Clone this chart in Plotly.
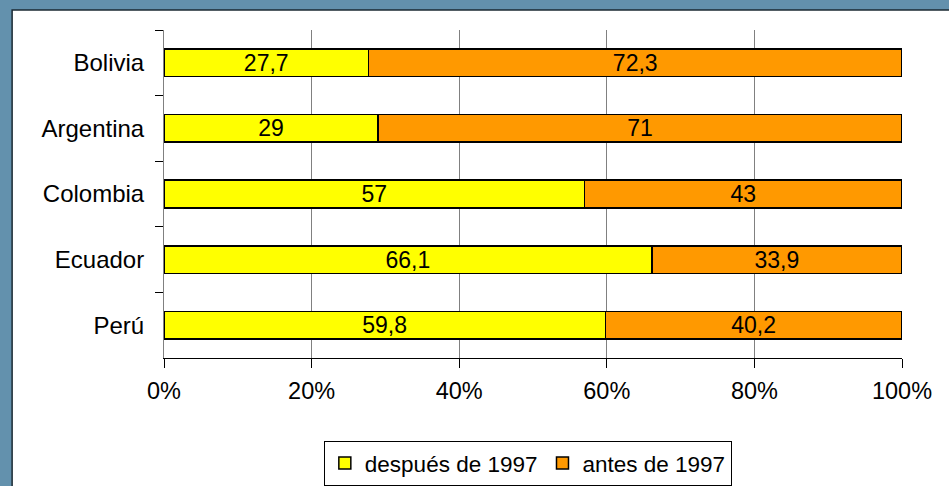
import plotly.graph_objects as go

# data
paises = ['Bolivia', 'Argentina', 'Colombia', 'Ecuador', 'Perú']
despues_1997 = [27.7, 29, 57, 66.1, 59.8]
antes_1997 = [72.3, 71, 43, 33.9, 40.2]
ticks_x = [0, 20, 40, 60, 80, 100]


def etiqueta(v):
    # coma decimal como en el original
    return ('%g' % v).replace('.', ',')


fuente = 'Liberation Sans, Arial, sans-serif'

fig = go.Figure()
fig.add_trace(go.Bar(
    y=paises, x=despues_1997, orientation='h', name='después de 1997',
    marker=dict(color='#FFFF00', line=dict(color='#000000', width=1.5)),
    text=[etiqueta(v) for v in despues_1997], textposition='inside',
    insidetextanchor='middle', constraintext='none', textangle=0,
    textfont=dict(size=23, color='#000000'),
))
fig.add_trace(go.Bar(
    y=paises, x=antes_1997, orientation='h', name='antes de 1997',
    marker=dict(color='#FF9900', line=dict(color='#000000', width=1.5)),
    text=[etiqueta(v) for v in antes_1997], textposition='inside',
    insidetextanchor='middle', constraintext='none', textangle=0,
    textfont=dict(size=23, color='#000000'),
))

# white panel over the blue background
fig.add_shape(type='rect', xref='paper', yref='paper',
              x0=-0.2058, x1=1.1, y0=-0.6, y1=1.061,
              fillcolor='white', line=dict(color='#1b2a33', width=1.5),
              layer='below')

fig.update_layout(
    width=949, height=486,
    margin=dict(l=163.5, r=47, t=30, b=128, autoexpand=False),
    barmode='stack', bargap=0.58,
    paper_bgcolor='#6391ad',
    plot_bgcolor='white',
    font=dict(family=fuente, size=24, color='#000000'),
    showlegend=True,
    legend=dict(orientation='h', x=0.493, xanchor='center', y=-0.253, yanchor='top',
                bgcolor='white', bordercolor='#000000', borderwidth=1,
                font=dict(size=22.5), traceorder='normal'),
    xaxis=dict(range=[0, 100], tickvals=ticks_x,
               ticktext=['%d%%' % t for t in ticks_x],
               tickfont=dict(size=23.5),
               showgrid=True, gridcolor='#808080', gridwidth=1,
               showline=True, linecolor='#000000', linewidth=1,
               ticks='outside', ticklen=9, tickcolor='#000000',
               ticklabelstandoff=3,
               zeroline=False, fixedrange=True),
    yaxis=dict(autorange='reversed', showgrid=False,
               showline=True, linecolor='#808080', linewidth=1,
               ticks='outside', tickson='boundaries', ticklen=8, tickcolor='#000000',
               ticklabelstandoff=14, fixedrange=True),
)

fig.write_html('out.html', config={'displayModeBar': False},
               post_script="document.body.style.margin='0';")
